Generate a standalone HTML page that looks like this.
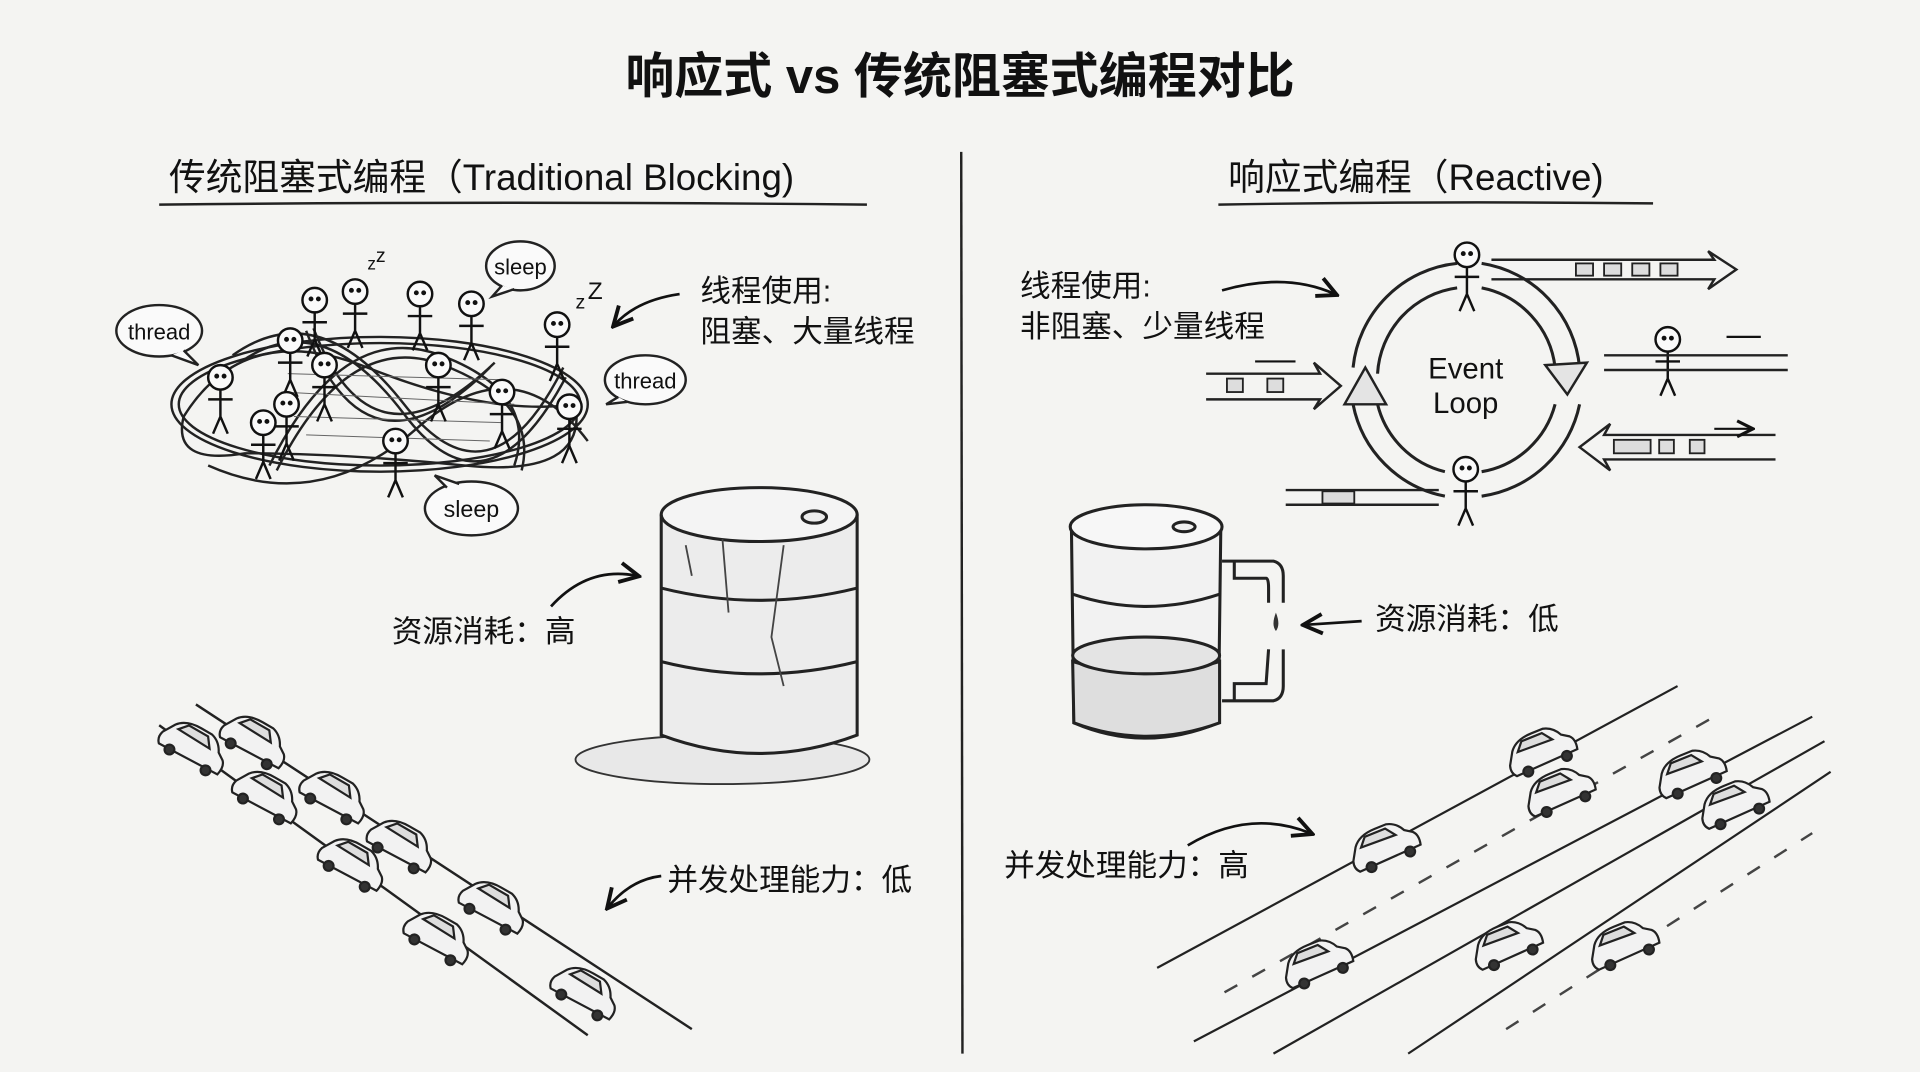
<!DOCTYPE html>
<html><head><meta charset="utf-8"><style>
html,body{margin:0;padding:0;background:#f4f4f2;}
svg{display:block}
text{font-family:"Liberation Sans","Noto Sans CJK SC",sans-serif;fill:#111}
</style></head><body>
<svg width="1920" height="1072" viewBox="0 0 1568 875" preserveAspectRatio="none" xmlns="http://www.w3.org/2000/svg">
<defs>
<marker id="ah" viewBox="0 0 10 10" refX="8" refY="5" markerWidth="9" markerHeight="9" orient="auto"><path d="M1,1 L9,5 L1,9" fill="none" stroke="#111" stroke-width="1.6"/></marker>
<g id="fig" stroke="#111" stroke-width="2" fill="#fafafa"><circle cx="0" cy="0" r="10"/><path d="M0,10 L0,32 M-10,18 L10,18 M0,32 L-6,46 M0,32 L6,46" fill="none"/><circle cx="-3" cy="-1" r="1" fill="#111"/><circle cx="3" cy="-1" r="1" fill="#111"/></g>
<g id="car" stroke="#222" stroke-width="1.8" fill="#f2f2f2"><path d="M0,14 L6,4 Q12,-4 26,-4 L36,-4 Q44,-2 48,6 L54,10 Q58,14 56,22 L2,24 Q-2,20 0,14Z"/><path d="M10,6 L16,-1 L34,-1 L40,7Z" fill="#ddd"/><circle cx="12" cy="24" r="4" fill="#333"/><circle cx="46" cy="24" r="4" fill="#333"/></g>
</defs>
<rect width="1568" height="875" fill="#f4f4f2"/>
<text x="784" y="76" font-size="40" text-anchor="middle" font-weight="bold">响应式 vs 传统阻塞式编程对比</text>
<path d="M785,124 L786,860" stroke="#222" stroke-width="2"/>
<text x="138" y="155" font-size="30">传统阻塞式编程（Traditional Blocking)</text>
<path d="M130,167 Q420,164 708,167" stroke="#222" stroke-width="2" fill="none"/>
<text x="1003" y="155" font-size="30">响应式编程（Reactive)</text>
<path d="M995,167 Q1170,164 1350,166" stroke="#222" stroke-width="2" fill="none"/>

<!-- tangle -->
<g fill="none" stroke="#222" stroke-width="2">
<ellipse cx="310" cy="330" rx="170" ry="55"/><ellipse cx="310" cy="330" rx="164" ry="50"/>
<path d="M150,340 Q200,260 300,300 T470,330 Q480,390 380,380 T200,370 Q140,380 150,340"/>
<path d="M190,290 Q260,240 330,330 T460,300"/><path d="M196,296 Q262,248 330,338 T462,308"/>
<path d="M220,380 Q280,260 360,290 T420,380"/><path d="M226,384 Q284,268 362,298 T426,384"/>
<path d="M250,270 Q300,400 400,300"/><path d="M256,268 Q304,392 404,296"/>
<path d="M170,380 Q260,420 340,350 T480,360"/>
</g>
<g stroke="#666" stroke-width="0.8"><path d="M230,320 L420,330 M240,340 L410,345 M250,355 L400,360 M235,305 L410,310"/></g>
<use href="#fig" x="180" y="308"/><use href="#fig" x="237" y="278"/><use href="#fig" x="257" y="245"/><use href="#fig" x="290" y="238"/><use href="#fig" x="343" y="240"/><use href="#fig" x="385" y="248"/><use href="#fig" x="455" y="265"/><use href="#fig" x="265" y="298"/><use href="#fig" x="358" y="298"/><use href="#fig" x="234" y="330"/><use href="#fig" x="215" y="345"/><use href="#fig" x="410" y="320"/><use href="#fig" x="465" y="332"/><use href="#fig" x="323" y="360"/>
<text x="300" y="220" font-size="14">z</text><text x="307" y="214" font-size="16">z</text>
<text x="470" y="252" font-size="16">z</text><text x="480" y="244" font-size="20">Z</text>
<g fill="#fafafa" stroke="#222" stroke-width="2">
<ellipse cx="130" cy="270" rx="35" ry="21"/><path d="M150,286 L162,298 L140,290"/>
<ellipse cx="425" cy="217" rx="28" ry="20"/><path d="M410,233 L402,242 L420,236"/>
<ellipse cx="527" cy="310" rx="33" ry="20"/><path d="M505,324 L495,330 L512,328"/>
<ellipse cx="385" cy="415" rx="38" ry="22"/><path d="M365,398 L355,388 L375,395"/>
</g>
<text x="130" y="277" font-size="18" text-anchor="middle">thread</text>
<text x="425" y="224" font-size="18" text-anchor="middle">sleep</text>
<text x="527" y="317" font-size="18" text-anchor="middle">thread</text>
<text x="385" y="422" font-size="19" text-anchor="middle">sleep</text>
<text x="572" y="246" font-size="25">线程使用:</text>
<text x="572" y="279" font-size="25">阻塞、大量线程</text>
<path d="M555,240 Q520,245 502,265" fill="none" stroke="#111" stroke-width="2.2" marker-end="url(#ah)"/>

<!-- barrel left -->
<ellipse cx="590" cy="620" rx="120" ry="20" fill="#e8e8e8" stroke="#333" stroke-width="1.5"/>
<g stroke="#222" stroke-width="2.5" fill="#ececec">
<path d="M540,420 L540,600 Q620,630 700,600 L700,420"/>
<ellipse cx="620" cy="420" rx="80" ry="22" fill="#f4f4f4"/>
<path d="M540,480 Q620,500 700,480 M540,540 Q620,560 700,540" fill="none"/>
<ellipse cx="665" cy="422" rx="10" ry="5"/>
</g>
<path d="M590,440 L595,500 M640,445 L630,520 L640,560 M560,445 L565,470" stroke="#444" stroke-width="1.5" fill="none"/>
<text x="320" y="524" font-size="25">资源消耗：高</text>
<path d="M450,495 Q480,462 520,470" fill="none" stroke="#111" stroke-width="2.2" marker-end="url(#ah)"/>

<!-- road left -->
<g stroke="#222" stroke-width="2" fill="none"><path d="M130,592 L480,845"/><path d="M160,575 L565,840"/></g>
<use href="#car" x="140" y="585" transform="rotate(30 140 585)"/>
<use href="#car" x="190" y="580" transform="rotate(30 190 580)"/>
<use href="#car" x="200" y="625" transform="rotate(30 200 625)"/>
<use href="#car" x="255" y="625" transform="rotate(30 255 625)"/>
<use href="#car" x="270" y="680" transform="rotate(30 270 680)"/>
<use href="#car" x="310" y="665" transform="rotate(30 310 665)"/>
<use href="#car" x="340" y="740" transform="rotate(30 340 740)"/>
<use href="#car" x="385" y="715" transform="rotate(30 385 715)"/>
<use href="#car" x="460" y="785" transform="rotate(30 460 785)"/>
<text x="545" y="727" font-size="25">并发处理能力：低</text>
<path d="M540,715 Q515,718 497,740" fill="none" stroke="#111" stroke-width="2.2" marker-end="url(#ah)"/>

<!-- right: event loop -->
<text x="833" y="242" font-size="25">线程使用:</text>
<text x="833" y="275" font-size="25">非阻塞、少量线程</text>
<path d="M998,237 Q1050,222 1090,240" fill="none" stroke="#111" stroke-width="2.2" marker-end="url(#ah)"/>
<g fill="none" stroke="#222" stroke-width="2.5">
<path d="M1105,300 A95,95 0 0 1 1190,215"/><path d="M1125,305 A75,75 0 0 1 1190,235"/>
<path d="M1210,215 A95,95 0 0 1 1290,300"/><path d="M1210,235 A75,75 0 0 1 1270,300"/>
<path d="M1290,330 A95,95 0 0 1 1210,405"/><path d="M1270,330 A75,75 0 0 1 1210,385"/>
<path d="M1180,405 A95,95 0 0 1 1105,330"/><path d="M1180,385 A75,75 0 0 1 1125,330"/>
</g>
<g fill="#e4e4e4" stroke="#222" stroke-width="2">
<path d="M1098,330 L1115,300 L1132,330Z"/><path d="M1262,298 L1280,322 L1296,296Z"/>
</g>
<text x="1197" y="309" font-size="24" text-anchor="middle">Event</text>
<text x="1197" y="337" font-size="24" text-anchor="middle">Loop</text>
<use href="#fig" x="1198" y="208"/><use href="#fig" x="1197" y="383"/><use href="#fig" x="1362" y="277"/>
<g fill="none" stroke="#222" stroke-width="2">
<path d="M1218,212 L1400,212 L1395,205 L1418,220 L1395,236 L1400,228 L1218,228"/>
<path d="M985,305 L1078,305 L1073,296 L1095,315 L1073,334 L1078,326 L985,326"/>
<path d="M1450,355 L1310,355 L1315,346 L1290,365 L1315,384 L1310,375 L1450,375"/>
<path d="M1050,400 L1175,400 M1050,412 L1175,412"/>
<path d="M1310,290 L1460,290 M1310,302 L1460,302"/>
</g>
<g fill="#ddd" stroke="#222" stroke-width="1.5">
<rect x="1287" y="215" width="14" height="10"/><rect x="1310" y="215" width="14" height="10"/><rect x="1333" y="215" width="14" height="10"/><rect x="1356" y="215" width="14" height="10"/>
<rect x="1002" y="309" width="13" height="11"/><rect x="1035" y="309" width="13" height="11"/>
<rect x="1318" y="359" width="30" height="11"/><rect x="1355" y="359" width="12" height="11"/><rect x="1380" y="359" width="12" height="11"/>
<rect x="1080" y="401" width="26" height="10"/>
</g>
<path d="M1025,295 L1058,295 M1410,275 L1438,275 M1400,350 L1430,350" stroke="#111" stroke-width="1.8" marker-end="url(#ah)"/>

<!-- right barrel -->
<g stroke="#222" stroke-width="2.5" fill="#f2f2f2">
<path d="M875,430 L877,590 Q935,615 995,590 L997,430"/>
<ellipse cx="936" cy="430" rx="62" ry="18" fill="#f7f7f7"/>
<path d="M876,485 Q936,505 996,485" fill="none"/>
<path d="M876,540 Q936,558 996,540 L996,590 Q936,612 877,590Z" fill="#dedede"/>
<ellipse cx="936" cy="535" rx="60" ry="15" fill="#e4e4e4"/>
<ellipse cx="967" cy="430" rx="9" ry="4"/>
<path d="M998,458 L1040,458 Q1048,460 1048,470 L1048,492 M1008,458 L1008,472 L1034,472 Q1036,472 1036,480 L1036,492" fill="none"/>
<path d="M998,572 L1040,572 Q1048,570 1048,560 L1048,530 M1008,572 L1008,558 L1034,558 L1036,530" fill="none"/>
</g>
<path d="M1042,500 Q1038,510 1042,515 Q1046,510 1042,500Z" fill="#333"/>
<text x="1123" y="514" font-size="25">资源消耗：低</text>
<path d="M1112,507 L1066,510" stroke="#111" stroke-width="2.2" marker-end="url(#ah)"/>

<!-- highway right -->
<g stroke="#222" stroke-width="1.8" fill="none">
<path d="M945,790 L1370,560"/><path d="M975,850 L1480,585"/><path d="M1040,860 L1490,605"/><path d="M1150,860 L1495,630"/>
</g>
<g stroke="#444" stroke-width="2" stroke-dasharray="12 14"><path d="M1000,810 L1400,585"/><path d="M1230,840 L1480,680"/></g>
<use href="#car" x="1228" y="612" transform="rotate(-22 1228 612)"/>
<use href="#car" x="1243" y="645" transform="rotate(-22 1243 645)"/>
<use href="#car" x="1100" y="690" transform="rotate(-22 1100 690)"/>
<use href="#car" x="1350" y="630" transform="rotate(-22 1350 630)"/>
<use href="#car" x="1385" y="655" transform="rotate(-22 1385 655)"/>
<use href="#car" x="1045" y="785" transform="rotate(-22 1045 785)"/>
<use href="#car" x="1200" y="770" transform="rotate(-22 1200 770)"/>
<use href="#car" x="1295" y="770" transform="rotate(-22 1295 770)"/>
<text x="820" y="715" font-size="25">并发处理能力：高</text>
<path d="M970,690 Q1020,660 1070,680" fill="none" stroke="#111" stroke-width="2.2" marker-end="url(#ah)"/>
</svg>
</body></html>
